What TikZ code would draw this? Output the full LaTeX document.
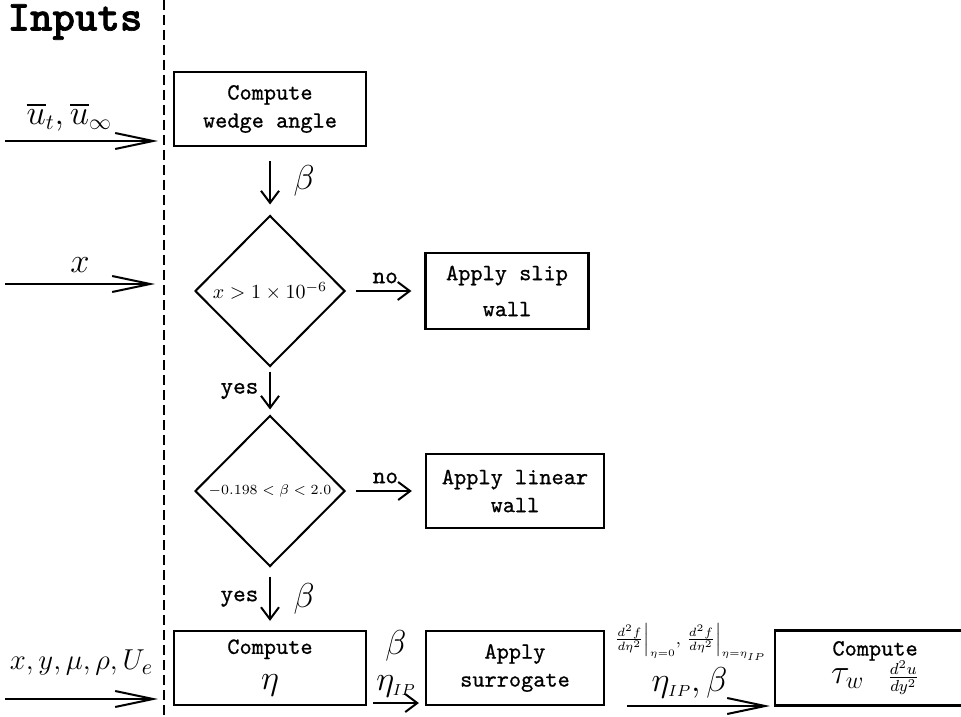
\documentclass[tikz,border=0pt]{standalone}
\usepackage{amsmath}
\usepackage{fontspec}
\newfontfamily\boxtt{lmmono10-regular.otf}[FakeBold=0.8]
\newfontfamily\headtt{lmmonolt10-bold.otf}[FakeBold=1.5]
\usetikzlibrary{shapes.geometric,arrows.meta,positioning}

\begin{document}
\begin{tikzpicture}[x=0.5pt,y=-0.5pt,line width=1pt,>={Straight Barb[length=6pt,width=9pt]}]
  \tikzstyle{block}=[rectangle,draw,line width=1.1pt,inner sep=2pt,align=center,minimum width=89pt,minimum height=37pt,font=\fontsize{11.6}{14}\boxtt]
  \tikzstyle{decision}=[diamond,draw,inner sep=0pt,minimum width=75pt,minimum height=75.5pt]
  \tikzstyle{flag}=[font=\fontsize{12}{13}\boxtt]
  \tikzstyle{sym}=[font=\fontsize{16}{18}\selectfont]
  \tikzstyle{longbarb}=[-{Straight Barb[length=19pt,width=8pt]}]
  \useasboundingbox (0,0) rectangle (961,716);

  % inputs column
  \node[font=\fontsize{21.4}{22}\headtt] (inputs) at (75,22) {Inputs};
  \coordinate (top) at (164,0);
  \coordinate (bottom) at (164,716);
  \draw[dash pattern=on 5pt off 2.5pt] (top) -- (bottom);

  \coordinate (u_in) at (5,141);
  \coordinate (u_end) at (158,141);
  \coordinate (x_in) at (5,284);
  \coordinate (x_end) at (155,284);
  \coordinate (flow_in) at (5,699);
  \coordinate (flow_end) at (158,699);

  % flow chart
  \node[block,minimum width=96pt] (wedge) at (270,109) {Compute\\wedge angle};
  \node[decision,font=\fontsize{9.6}{11}\selectfont] (check_x) at (270,291) {$x>1\times10^{-6}$};
  \node[block,minimum width=81.5pt,minimum height=38pt] (slip) at (507,291) {Apply slip\\[4pt]wall};
  \node[decision,font=\fontsize{7.4}{9}\selectfont] (check_b) at (270,491) {$-0.198<\beta<2.0$};
  \node[block] (linear) at (515,491) {Apply linear\\wall};
  \node[block,minimum width=96pt] (eta) at (270,668) {Compute\\[4pt]{\fontsize{17}{17}\selectfont$\eta$}};
  \node[block] (surr) at (515,668) {Apply\\surrogate};
  \node[block,anchor=west,minimum width=100pt,minimum height=37.5pt] (tau) at (774,668) {Compute\\{\fontsize{17}{17}\selectfont$\tau_w$}\quad$\frac{d^2u}{dy^2}$};

  \draw[longbarb] (u_in) -- node[pos=0.42,above=1pt,sym]{$\overline{u}_t,\overline{u}_\infty$} (u_end);
  \draw[longbarb] (x_in) -- node[above=2pt,sym]{$x$} (x_end);
  \draw[longbarb] (flow_in) -- node[above=8pt,font=\fontsize{15.6}{17}\selectfont]{$x,y,\mu,\rho,U_e$} (flow_end);

  \draw[->,shorten <=7pt,shorten >=5pt] (wedge) -- node[right=8pt,sym]{$\beta$} (check_x);
  \draw[->,shorten <=5pt,shorten >=6.5pt] (check_x) -- node[above,flag]{no} (slip);
  \draw[->,shorten <=2pt,shorten >=2.5pt] (check_x) -- node[left=2pt,flag]{yes} (check_b);
  \draw[->,shorten <=5pt,shorten >=6.5pt] (check_b) -- node[above,flag]{no} (linear);
  \draw[->,shorten <=4.5pt,shorten >=4.5pt] (check_b) -- node[left=2pt,flag]{yes} node[right=8pt,sym]{$\beta$} (eta);
  \draw[->,shorten <=3pt,shorten >=3pt] ([yshift=-17.5pt]eta.east) -- node[above=-1pt,sym,align=center]{$\beta$\\$\eta_{\scriptscriptstyle IP}$} ([yshift=-17.5pt]surr.west);
  \draw[longbarb,shorten <=11pt,shorten >=2pt] ([yshift=-19pt]surr.east) -- node[above=0pt,sym] (pair) {$\eta_{\scriptscriptstyle IP},\beta$} ([yshift=-19pt]tau.west);
  \node[above=-4pt of pair,font=\fontsize{9}{10}\selectfont] (derivs) {$\left.\frac{d^2f}{d\eta^2}\right|_{\scriptscriptstyle\eta=0}\!,\left.\frac{d^2f}{d\eta^2}\right|_{\scriptscriptstyle\eta=\eta_{IP}}$};
\end{tikzpicture}
\end{document}
